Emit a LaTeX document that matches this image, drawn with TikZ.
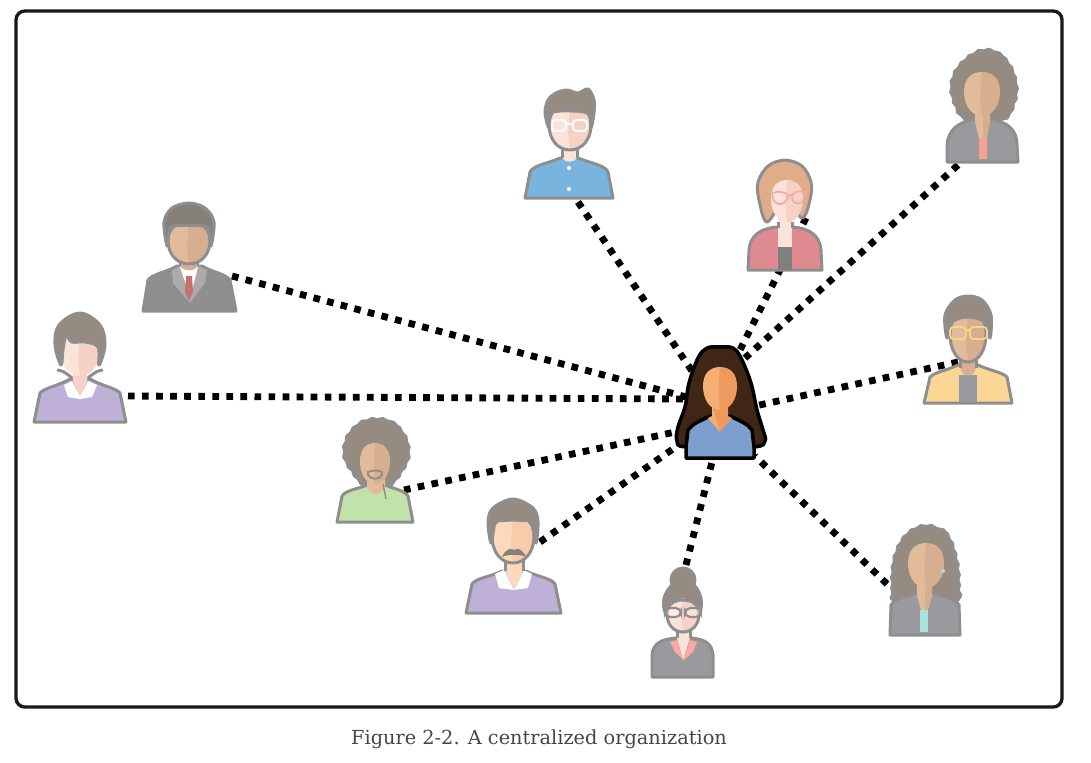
\documentclass[tikz,border=0pt]{standalone}
\usepackage{fontspec}
\newfontfamily\captionfont{DejaVu Serif}
\usetikzlibrary{decorations.pathmorphing}
\definecolor{iconline}{HTML}{8E8E8E}
\definecolor{hairgray}{HTML}{968B81}
\definecolor{jacket}{HTML}{9A999E}
\definecolor{tanlight}{HTML}{E2BB9A}
\definecolor{tandark}{HTML}{D8AE90}
\definecolor{palelight}{HTML}{FCE3DA}
\definecolor{paledark}{HTML}{F6D2C6}
\definecolor{peachlight}{HTML}{FCD9BC}
\definecolor{peachdark}{HTML}{F8CCAB}
\definecolor{orangelight}{HTML}{F5AE73}
\definecolor{orangedark}{HTML}{EE9A5D}
\definecolor{shirtblue}{HTML}{78B4DE}
\definecolor{blouse}{HTML}{DF8A90}
\definecolor{redhair}{HTML}{E0AC8A}
\definecolor{rosy}{HTML}{F8AAA0}
\definecolor{salmon}{HTML}{F8A093}
\definecolor{sand}{HTML}{FBD694}
\definecolor{goldframe}{HTML}{F8D58A}
\definecolor{mint}{HTML}{A7E3D8}
\definecolor{lilac}{HTML}{BFB0D8}
\definecolor{leaf}{HTML}{C2E2AC}
\definecolor{suitgray}{HTML}{8F8F8F}
\definecolor{lapel}{HTML}{ABABAB}
\definecolor{tiered}{HTML}{C96F6F}
\definecolor{darkhair}{HTML}{86807A}
\definecolor{brownhair}{HTML}{3F2615}
\definecolor{chiefblue}{HTML}{7C9FCF}
\definecolor{captiongray}{HTML}{44444E}
\tikzset{
  icon/.style={draw=iconline,line width=1.7pt,line join=round},
  chief/.style={draw=black,line width=2pt,line join=round},
  link/.style={draw=black,line width=3.9pt,dash pattern=on 3.8pt off 4.2pt},
  curly/.style={decorate,decoration={snake,amplitude=0.45pt,segment length=6pt}},
}
% options of the outline, x, top, half width, bottom, light, shade
\newcommand{\head}[7][]{%
  \pgfmathsetmacro{\hh}{#5-#3}%
  \fill[#6] (#2,#3) .. controls (#2-0.6*#4,#3) and (#2-#4,#3+0.15*\hh) .. (#2-#4,#3+0.45*\hh)
    .. controls (#2-#4,#3+0.75*\hh) and (#2-0.6*#4,#5) .. (#2,#5) -- cycle;
  \fill[#7] (#2,#3) .. controls (#2+0.6*#4,#3) and (#2+#4,#3+0.15*\hh) .. (#2+#4,#3+0.45*\hh)
    .. controls (#2+#4,#3+0.75*\hh) and (#2+0.6*#4,#5) .. (#2,#5) -- (#2-0.1*#4,#3+0.6*\hh) -- cycle;
  \draw[icon,#1] (#2,#3) .. controls (#2-0.6*#4,#3) and (#2-#4,#3+0.15*\hh) .. (#2-#4,#3+0.45*\hh)
    .. controls (#2-#4,#3+0.75*\hh) and (#2-0.6*#4,#5) .. (#2,#5)
    .. controls (#2+0.6*#4,#5) and (#2+#4,#3+0.75*\hh) .. (#2+#4,#3+0.45*\hh)
    .. controls (#2+#4,#3+0.15*\hh) and (#2+0.6*#4,#3) .. (#2,#3);
}

\begin{document}
\begin{tikzpicture}[x=0.02cm,y=-0.02cm]
  \useasboundingbox (0,0) rectangle (1091,762);
  \draw[black!90,line width=1.9pt,rounded corners=5pt] (16,11) rectangle (1062,707);
  \node[font=\captionfont\fontsize{11}{13}\selectfont,text=captiongray] (caption) at (539,739) {Figure 2-2. A centralized organization};

  % ends of the connectors
  \coordinate (glasses) at (578,202);   \coordinate (hubglasses) at (692,371);
  \coordinate (redhead) at (806,218);   \coordinate (hubredhead) at (738,354);
  \coordinate (topright) at (958,165);  \coordinate (hubtopright) at (745,358);
  \coordinate (yellow) at (958,362);    \coordinate (hubyellow) at (755,406);
  \coordinate (curlyhair) at (887,584); \coordinate (hubcurlyhair) at (755,456);
  \coordinate (bun) at (686,565);       \coordinate (hubbun) at (713,458);
  \coordinate (moustache) at (540,542); \coordinate (hubmoustache) at (680,444);
  \coordinate (afro) at (404,490);      \coordinate (hubafro) at (680,431);
  \coordinate (inlilac) at (128,396);   \coordinate (hubinlilac) at (688,399);
  \coordinate (suit) at (232,276);      \coordinate (hubsuit) at (690,398);
  \foreach \who in {glasses,redhead,topright,yellow,curlyhair,bun,moustache,afro,inlilac,suit}
    \draw[link] (\who) -- (hub\who);

  % man with glasses
  \filldraw[icon,fill=shirtblue] (525,198) -- (530,172) .. controls (533,165) and (550,163) .. (560,158) -- (578,158) .. controls (590,163) and (605,165) .. (608,172) -- (613,198) -- cycle;
  \fill[palelight] (562,140) -- (562,158) .. controls (565,163) and (574,163) .. (577,158) -- (577,140) -- cycle;
  \draw[icon] (562,146) -- (562,158) (577,146) -- (577,158);
  \head{570}{105}{21}{150}{palelight}{paledark}
  \filldraw[icon,fill=hairgray] plot[smooth cycle,tension=0.55] coordinates {(549,128) (545,113) (548,100) (556,93) (567,90) (578,93) (588,89) (594,100) (594,113) (591,128) (589,114) (572,111) (551,113)};
  \draw[white,line width=1.1pt,rounded corners=2pt] (552,120) rectangle (566,131) (573,120) rectangle (587,131) (566,124) -- (573,124);
  \fill[white] (569,168) circle (2) (569,189) circle (2);

  % woman with red blouse
  \filldraw[icon,fill=blouse] (748,270) -- (749,250) .. controls (750,236) and (760,228) .. (778,227) -- (792,227) .. controls (810,228) and (820,236) .. (821,250) -- (822,270) -- cycle;
  \fill[black!50] (778,247) rectangle (792,270);
  \filldraw[icon,fill=redhair] plot[smooth cycle,tension=0.55] coordinates {(767,222) (759,200) (758,182) (768,166) (785,160) (802,166) (811,182) (810,200) (802,218) (785,200)};
  \fill[palelight] (778,215) rectangle (792,247);
  \head[draw=none]{787}{180}{16}{222}{palelight}{paledark}
  \draw[icon] (778,222) -- (778,228) (792,222) -- (792,228);
  \draw[rosy,line width=1pt] (772,193) .. controls (778,191) and (786,192) .. (788,195) .. controls (787,207) and (772,208) .. (772,193) (792,195) .. controls (796,190) and (803,191) .. (805,192) .. controls (805,207) and (791,207) .. (792,195) (788,195) -- (792,195);

  % woman at the top right
  \filldraw[icon,fill=hairgray,curly] plot[smooth cycle,tension=0.7] coordinates {(983,48) (1003,57) (1014,80) (1012,102) (1000,118) (966,118) (953,102) (950,80) (961,60)};
  \filldraw[icon,fill=jacket] (947,162) -- (947,145) .. controls (948,130) and (958,122) .. (975,119) -- (990,119) .. controls (1008,122) and (1017,130) .. (1017,145) -- (1018,162) -- cycle;
  \fill[tanlight] (975,105) -- (975,122) -- (979,138) -- (983,138) -- (983,105) -- cycle;
  \fill[tandark] (983,105) -- (983,138) -- (987,138) -- (990,122) -- (990,105) -- cycle;
  \fill[salmon] (979,138) rectangle (987,159);
  \head[draw=none]{982}{72}{18}{116}{tanlight}{tandark}

  % man with yellow jacket
  \filldraw[icon,fill=sand] (924,403) -- (930,377) .. controls (935,372) and (948,370) .. (958,365) -- (978,365) .. controls (988,370) and (1002,372) .. (1007,377) -- (1012,403) -- cycle;
  \fill[jacket] (959,375) rectangle (977,402);
  \fill[tandark] (960,350) -- (960,368) .. controls (963,378) and (973,378) .. (976,368) -- (976,350) -- cycle;
  \draw[icon] (960,358) -- (960,368) (976,358) -- (976,368);
  \head{968}{312}{18}{362}{tanlight}{tandark}
  \filldraw[icon,fill=hairgray] plot[smooth cycle,tension=0.55] coordinates {(947,338) (945,315) (955,300) (968,296) (982,300) (991,315) (990,338) (985,322) (968,317) (952,322)};
  \draw[goldframe,line width=1pt,rounded corners=2pt] (950,327) rectangle (966,339) (970,327) rectangle (987,339) (966,330) -- (970,330);

  % woman with long curly hair
  \filldraw[icon,fill=hairgray,curly] plot[smooth cycle,tension=0.6] coordinates {(925,523) (945,532) (955,558) (957,585) (953,600) (897,600) (891,585) (893,555) (905,532)};
  \filldraw[icon,fill=jacket] (890,635) -- (891,605) .. controls (895,598) and (907,596) .. (918,593) -- (932,593) .. controls (943,596) and (955,598) .. (959,605) -- (960,635) -- cycle;
  \fill[tanlight] (917,580) -- (917,596) -- (921,610) -- (925,610) -- (925,580) -- cycle;
  \fill[tandark] (925,580) -- (925,610) -- (928,610) -- (932,596) -- (932,580) -- cycle;
  \fill[mint] (920,610) rectangle (928,632);
  \head[draw=none]{926}{543}{18}{588}{tanlight}{tandark}
  \fill[mint] (943,571) circle (2);

  % woman with hair bun
  \filldraw[icon,fill=jacket] (652,677) -- (652,655) .. controls (653,644) and (660,639) .. (677,638) -- (690,638) .. controls (706,639) and (712,644) .. (713,655) -- (713,677) -- cycle;
  \fill[palelight] (677,625) -- (677,638) -- (683,660) -- (690,638) -- (690,625) -- cycle;
  \draw[icon] (677,628) -- (677,638) (690,628) -- (690,638);
  \fill[rosy] (670,642) -- (677,640) -- (683,660) -- (690,640) -- (697,642) -- (693,652) -- (684,660) -- (675,652) -- cycle;
  \filldraw[icon,fill=hairgray] (683,580) circle (12);
  \head{683}{600}{16}{632}{palelight}{paledark}
  \filldraw[icon,fill=hairgray] plot[smooth cycle,tension=0.6] coordinates {(665,612) (664,598) (672,585) (683,582) (694,585) (701,598) (700,612) (695,602) (683,597) (670,602)};
  \fill[hairgray] (683,583) circle (9);
  \draw[iconline,line width=1.2pt,fill=white,fill opacity=0.35,rounded corners=3pt] (665,608) rectangle (681,617) (685,608) rectangle (701,617);

  % man with moustache
  \filldraw[icon,fill=lilac] (466,613) -- (472,584) .. controls (476,578) and (490,577) .. (502,571) -- (526,571) .. controls (538,577) and (551,578) .. (555,584) -- (561,613) -- cycle;
  \fill[white] (495,574) -- (504,570) -- (514,590) -- (524,570) -- (532,574) -- (528,588) -- (514,590) -- (499,588) -- cycle;
  \fill[peachlight] (505,558) rectangle (523,571) (505,571) -- (523,571) -- (514,589) -- cycle;
  \draw[icon] (505,560) -- (505,571) (523,560) -- (523,571);
  \head{513}{515}{21}{563}{peachlight}{peachdark}
  \filldraw[icon,fill=hairgray] plot[smooth cycle,tension=0.55] coordinates {(491,543) (488,522) (493,508) (513,499) (533,508) (538,522) (536,543) (533,528) (530,521) (497,521) (494,528)};
  \fill[darkhair] (502,557) .. controls (506,548) and (511,548) .. (514,550) .. controls (517,548) and (522,548) .. (526,557) .. controls (520,554) and (508,554) .. (502,557) -- cycle;

  % man with afro
  \filldraw[icon,fill=hairgray,curly] plot[smooth cycle,tension=0.75] coordinates {(375,417) (397,426) (407,450) (398,472) (385,484) (365,484) (352,472) (342,450) (352,426)};
  \filldraw[icon,fill=leaf] (337,522) -- (342,496) .. controls (346,490) and (358,489) .. (367,485) -- (385,485) .. controls (394,489) and (404,490) .. (408,496) -- (413,522) -- cycle;
  \fill[tanlight] (367,478) -- (367,488) .. controls (372,496) and (380,496) .. (385,488) -- (385,478) -- cycle;
  \head[draw=none]{375}{443}{15}{484}{tanlight}{tandark}
  \draw[hairgray,line width=1.1pt] (368,475) -- (368,472) .. controls (372,470) and (379,470) .. (382,472) -- (382,475) (368,475) .. controls (371,480) and (379,480) .. (382,475);
  \draw[iconline,line width=0.8pt] (383,484) -- (386,499);

  % woman in lilac
  \filldraw[icon,fill=lilac] (34,422) -- (40,393) .. controls (44,388) and (58,386) .. (70,379) -- (90,379) .. controls (102,386) and (116,388) .. (120,393) -- (126,422) -- cycle;
  \fill[white] (64,385) -- (72,381) -- (80,396) -- (88,381) -- (97,385) -- (92,397) -- (80,399) -- (68,397) -- cycle;
  \fill[paledark] (73,365) rectangle (87,381) (73,381) -- (87,381) -- (80,396) -- cycle;
  \draw[icon] plot[smooth,tension=0.7] coordinates {(57,370) (64,372) (72,378)} plot[smooth,tension=0.7] coordinates {(103,370) (96,372) (88,378)};
  \head[draw=none]{80}{333}{19}{376}{palelight}{paledark}
  \filldraw[icon,fill=hairgray] plot[smooth cycle,tension=0.6] coordinates {(61,365) (55,345) (59,325) (80,313) (100,325) (105,345) (99,365) (98,347) (85,342) (72,342) (66,336) (63,350)};

  % man in a suit
  \filldraw[icon,fill=suitgray] (143,311) -- (148,280) .. controls (152,274) and (167,272) .. (177,266) -- (202,266) .. controls (212,272) and (226,274) .. (230,280) -- (236,311) -- cycle;
  \fill[lapel] (172,270) -- (173,283) -- (190,303) -- (205,283) -- (207,270) -- (198,266) -- (188,295) -- (180,266) -- cycle;
  \fill[white] (180,267) -- (190,298) -- (198,267) -- cycle;
  \fill[tiered] (186,276) -- (192,276) -- (193,292) -- (189,301) -- (185,292) -- cycle;
  \fill[tandark] (180,252) -- (180,266) .. controls (184,272) and (194,272) .. (198,266) -- (198,252) -- cycle;
  \draw[icon] (180,256) -- (180,266) (198,256) -- (198,266);
  \head{189}{222}{21}{264}{tanlight}{tandark}
  \filldraw[icon,fill=darkhair] plot[smooth cycle,tension=0.55] coordinates {(167,246) (164,222) (172,208) (189,203) (205,208) (214,222) (211,246) (209,232) (204,226) (174,226) (169,232)};

  % the person at the centre
  \filldraw[chief,fill=brownhair] plot[smooth cycle,tension=0.6] coordinates {(720,347) (733,348) (741,358) (751,383) (757,410) (763,430) (765,441) (753,447) (687,447) (677,441) (678,427) (685,407) (689,383) (698,358) (707,348)};
  \filldraw[chief,fill=chiefblue] (686,458) -- (686,447) -- (688,430) .. controls (692,424) and (700,421) .. (710,416) -- (730,416) .. controls (740,421) and (748,424) .. (752,430) -- (754,447) -- (754,458) -- cycle;
  \fill[orangelight] (712,400) -- (712,416) -- (708,418) -- (720,432) -- cycle;
  \fill[orangedark] (728,400) -- (728,416) -- (732,418) -- (720,432) -- (712,400) -- cycle;
  \head[draw=none]{720}{367}{17}{410}{orangelight}{orangedark}
\end{tikzpicture}
\end{document}
